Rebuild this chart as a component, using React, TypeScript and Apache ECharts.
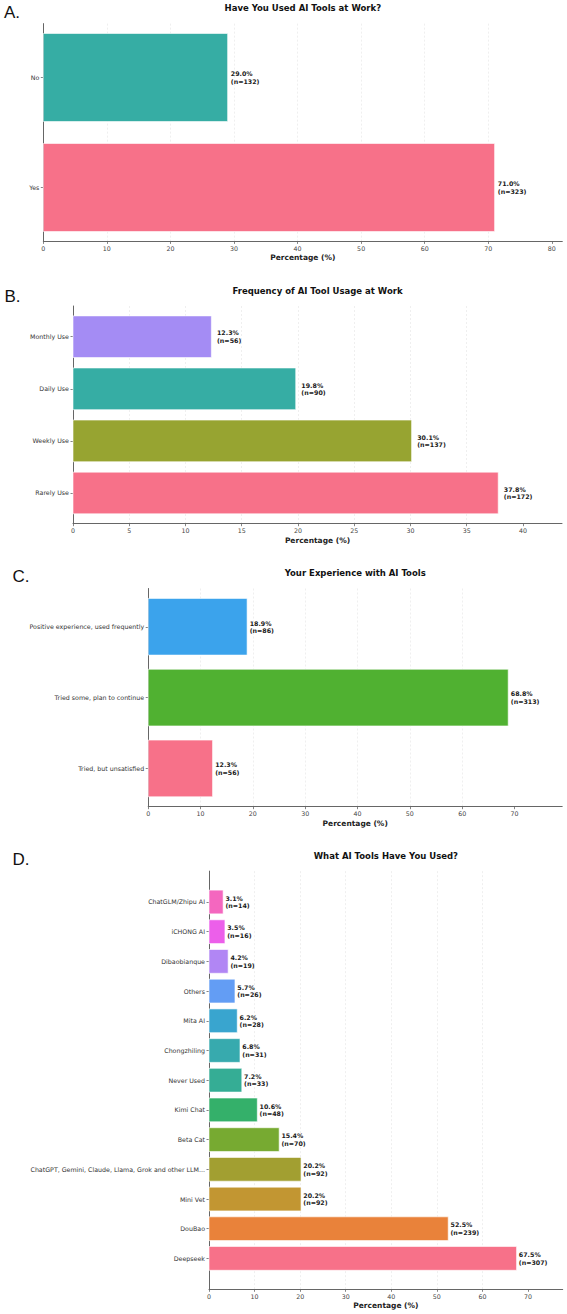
import React, { useEffect, useRef } from 'react';
import * as echarts from 'echarts';

// Panel A (bottom to top)
const aCategories = ['Yes', 'No'];
const aPercents = [71.0, 29.0];
const aCounts = [323, 132];
const aColors = ['#f77189', '#36ada4'];

// Panel B (bottom to top)
const bCategories = ['Rarely Use', 'Weekly Use', 'Daily Use', 'Monthly Use'];
const bPercents = [37.8, 30.1, 19.8, 12.3];
const bCounts = [172, 137, 90, 56];
const bColors = ['#f77189', '#97a431', '#36ada4', '#a48cf4'];

// Panel C (bottom to top)
const cCategories = ['Tried, but unsatisfied', 'Tried some, plan to continue', 'Positive experience, used frequently'];
const cPercents = [12.3, 68.8, 18.9];
const cCounts = [56, 313, 86];
const cColors = ['#f77189', '#50b131', '#3ba3ec'];

// Panel D (bottom to top)
const dCategories = [
  'Deepseek', 'DouBao', 'Mini Vet', 'ChatGPT, Gemini, Claude, Llama, Grok and other LLM...',
  'Beta Cat', 'Kimi Chat', 'Never Used', 'Chongzhiling', 'Mita AI', 'Others',
  'Dibaobianque', 'iCHONG AI', 'ChatGLM/Zhipu AI',
];
const dPercents = [67.5, 52.5, 20.2, 20.2, 15.4, 10.6, 7.2, 6.8, 6.2, 5.7, 4.2, 3.5, 3.1];
const dCounts = [307, 239, 92, 92, 70, 48, 33, 31, 28, 26, 19, 16, 14];
const dColors = [
  '#f77189', '#e9823a', '#c29632', '#a29f31', '#77aa31', '#34b06a', '#35ad95',
  '#37aaae', '#39a5cf', '#639df4', '#b186f4', '#ec5fea', '#f467bf',
];

const xTitle = 'Percentage (%)';

const panels = [
  { letter: 'A.', title: 'Have You Used AI Tools at Work?', cats: aCategories, pcts: aPercents, counts: aCounts, colors: aColors,
    left: 43.3, top: 23.6, width: 519, height: 217.8, interval: 10, letterX: 4, letterY: 12.5, titleY: 7.5 },
  { letter: 'B.', title: 'Frequency of AI Tool Usage at Work', cats: bCategories, pcts: bPercents, counts: bCounts, colors: bColors,
    left: 73, top: 306, width: 489, height: 217.7, interval: 5, letterX: 4.5, letterY: 296.5, titleY: 290.5 },
  { letter: 'C.', title: 'Your Experience with AI Tools', cats: cCategories, pcts: cPercents, counts: cCounts, colors: cColors,
    left: 148.2, top: 588.5, width: 414, height: 218.2, interval: 10, letterX: 12.5, letterY: 576, titleY: 573 },
  { letter: 'D.', title: 'What AI Tools Have You Used?', cats: dCategories, pcts: dPercents, counts: dCounts, colors: dColors,
    left: 209, top: 871.1, width: 353.7, height: 418.2, interval: 10, letterX: 12.5, letterY: 859, titleY: 855.5 },
];

const FONT = '"DejaVu Sans", sans-serif';

function buildOption() {
  const grid: any[] = [];
  const xAxis: any[] = [];
  const yAxis: any[] = [];
  const series: any[] = [];
  const graphic: any[] = [];

  panels.forEach((p, gi) => {
    const n = p.cats.length;
    const margin = 0.4 + 0.05 * (n - 0.2);
    const xMax = Math.max(...p.pcts) * 1.15;
    const xTicks: number[] = [];
    for (let v = 0; v <= xMax + 1e-9; v += p.interval) xTicks.push(v);
    const yTicks = p.cats.map((_, i) => i);

    grid.push({ left: p.left, top: p.top, width: p.width, height: p.height, containLabel: false });

    xAxis.push({
      type: 'value', gridIndex: gi, min: 0, max: xMax, interval: p.interval, position: 'bottom',
      name: xTitle, nameLocation: 'middle', nameGap: 12.5,
      nameTextStyle: { fontSize: 7.5, fontWeight: 'bold', color: '#222', fontFamily: FONT },
      axisLine: { show: true, onZero: false, lineStyle: { color: '#666', width: 1 } },
      axisTick: { show: true, length: 2.5, customValues: xTicks, lineStyle: { color: '#666', width: 0.8 } },
      axisLabel: { customValues: xTicks, margin: 4, fontSize: 6.3, color: '#444', fontFamily: FONT },
      splitLine: { show: true, showMaxLine: false, showMinLine: false, lineStyle: { color: '#e4e4e4', type: [2, 2], width: 0.6 } },
    });

    yAxis.push({
      type: 'value', gridIndex: gi, min: -margin, max: n - 1 + margin, position: 'left',
      axisLine: { show: true, onZero: false, lineStyle: { color: '#666', width: 1 } },
      axisTick: { show: true, length: 2.5, customValues: yTicks, lineStyle: { color: '#666', width: 0.8 } },
      axisLabel: {
        customValues: yTicks, margin: 4, fontSize: 6.3, color: '#333', fontFamily: FONT,
        formatter: (v: number) => p.cats[Math.round(v)] ?? '',
      },
      splitLine: { show: false },
    });

    series.push({
      type: 'custom', xAxisIndex: gi, yAxisIndex: gi, clip: false,
      data: p.pcts.map((v, i) => [v, i, p.counts[i]]),
      encode: { x: 0, y: 1 },
      renderItem: (params: any, api: any) => {
        const v = api.value(0);
        const idx = api.value(1);
        const cnt = api.value(2);
        const p0 = api.coord([0, idx]);
        const p1 = api.coord([v, idx]);
        const h = api.size([0, 0.8])[1];
        const lp = api.coord([v + 0.5, idx]);
        return {
          type: 'group',
          children: [
            { type: 'rect', shape: { x: p0[0], y: p0[1] - h / 2, width: p1[0] - p0[0], height: h },
              style: { fill: p.colors[idx], stroke: '#ffffff', lineWidth: 0.6 } },
            { type: 'text', x: lp[0], y: lp[1],
              style: { text: `${v.toFixed(1)}%\n(n=${cnt})`, fill: '#1a1a1a', fontSize: 6.3, fontWeight: 'bold',
                fontFamily: FONT, lineHeight: 7.5, align: 'left', verticalAlign: 'middle' } },
          ],
        };
      },
    });

    graphic.push({
      type: 'text', x: p.letterX, y: p.letterY,
      style: { text: p.letter, fontSize: 17, fontFamily: '"Liberation Sans", Arial, sans-serif', fill: '#111',
        align: 'left', verticalAlign: 'middle' },
    });
    graphic.push({
      type: 'text', x: p.left + p.width / 2, y: p.titleY,
      style: { text: p.title, fontSize: 8.5, fontWeight: 'bold', fontFamily: FONT, fill: '#111',
        align: 'center', verticalAlign: 'middle' },
    });
  });

  return { animation: false, backgroundColor: '#ffffff', grid, xAxis, yAxis, series, graphic };
}

export default function App() {
  const ref = useRef<HTMLDivElement>(null);
  useEffect(() => {
    if (!ref.current) return;
    const chart = echarts.init(ref.current, undefined, { renderer: 'svg' });
    chart.setOption(buildOption() as any);
    return () => chart.dispose();
  }, []);
  return (
    <div ref={ref} style={{ position: 'absolute', left: 0, top: 0, width: 567, height: 1314, background: '#fff' }} />
  );
}
